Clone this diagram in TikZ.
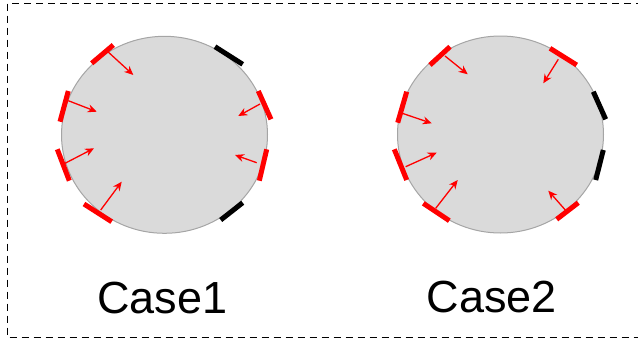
\documentclass[tikz,border=0pt]{standalone}
\usepackage{fontspec}
\setmainfont{Liberation Sans}
\usetikzlibrary{arrows.meta,shapes.geometric}
\definecolor{diskfill}{RGB}{218,218,218}
\definecolor{diskline}{RGB}{165,165,165}
\tikzset{
  disk/.style={ellipse, draw=diskline, line width=1pt, fill=diskfill, minimum width=206pt, minimum height=197pt, inner sep=0pt},
  redbar/.style={draw=red, line width=5pt},
  blackbar/.style={draw=black, line width=5pt},
  ray/.style={draw=red, line width=1.3pt, -{Stealth[length=9pt,width=8pt]}},
  caselabel/.style={anchor=base, font=\fontsize{45pt}{50pt}\selectfont, inner sep=0pt},
  frame/.style={draw=black, line width=1.5pt, dash pattern=on 7pt off 5pt}
}
\begin{document}
\begin{tikzpicture}[x=1pt,y=-1pt]
\useasboundingbox (0,0) rectangle (638,340);
\begin{scope}
\clip (0,0) rectangle (638,340);
\draw[frame] (7.5,3.5) rectangle (645,337.5);
\end{scope}
% Case 1
\node[disk] (c1) at (164.5,134.8) {};
\draw[redbar] (91.7,63.3) -- (113.3,45);
\draw[redbar] (60,121.7) -- (68.3,91);
\draw[redbar] (57.3,149.3) -- (69.3,180.7);
\draw[redbar] (84,204) -- (111.7,221.7);
\draw[redbar] (258.3,91) -- (271,119.3);
\draw[redbar] (266.7,149.3) -- (259.3,180.7);
\draw[blackbar] (215,46.7) -- (242.7,64.3);
\draw[blackbar] (220.7,220) -- (242.7,202.7);
\draw[ray] (106,50) -- (133.3,75);
\draw[ray] (68.3,100.7) -- (96.7,111.7);
\draw[ray] (65,163.3) -- (94,148.3);
\draw[ray] (100.7,210) -- (121.7,181.7);
\draw[ray] (260,104) -- (238.3,116);
\draw[ray] (256.7,162.7) -- (235,155);
% Case 2
\node[disk] (c2) at (500.5,134.5) {};
\draw[redbar] (430,65) -- (450,46.7);
\draw[redbar] (550,48.3) -- (576.7,65);
\draw[redbar] (397.7,122.7) -- (406.7,91.7);
\draw[redbar] (394.3,149.3) -- (406.7,180);
\draw[redbar] (423.3,203.3) -- (449.3,220.7);
\draw[redbar] (556.7,219.3) -- (578.3,202.7);
\draw[blackbar] (593.3,91.7) -- (605.7,119.3);
\draw[blackbar] (603.3,150) -- (595.7,180);
\draw[ray] (445,56) -- (467.7,74.3);
\draw[ray] (558.3,59.3) -- (543.3,83.3);
\draw[ray] (402.3,113.3) -- (431.7,123.3);
\draw[ray] (405.7,166.7) -- (436.7,152.7);
\draw[ray] (435.7,208.3) -- (457.7,180);
\draw[ray] (567.7,212.7) -- (548.3,190.7);
% labels
\node[caselabel] (l1) at (162.5,313) {Case1};
\node[caselabel] (l2) at (492,312.7) {Case2};
\end{tikzpicture}
\end{document}
